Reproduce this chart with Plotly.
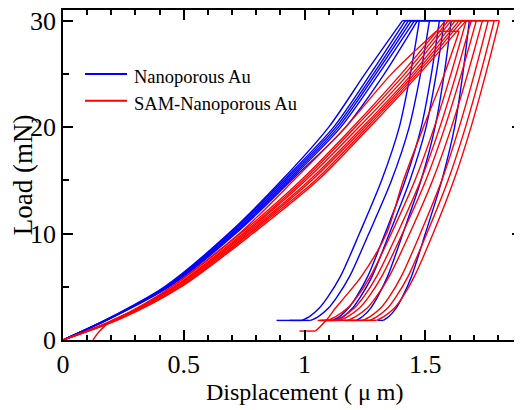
import plotly.graph_objects as go

# ---------------- data ----------------
LOAD_UP = [0, 2, 5, 10, 15, 20, 25, 30]
LOAD_DOWN = [30, 25, 20, 15, 10, 6, 4, 3, 2.2, 1.84]
MAX_LOAD = 30
DRIFT_LOAD = 1.84

BLUE_UP_X = [
    [0, 0.186, 0.420, 0.685, 0.905, 1.100, 1.250, 1.405],
    [0, 0.188, 0.425, 0.690, 0.913, 1.120, 1.273, 1.417],
    [0, 0.190, 0.428, 0.697, 0.921, 1.130, 1.285, 1.430],
    [0, 0.192, 0.432, 0.703, 0.929, 1.140, 1.295, 1.442],
    [0, 0.193, 0.436, 0.709, 0.937, 1.150, 1.307, 1.455],
    [0, 0.195, 0.440, 0.715, 0.945, 1.170, 1.330, 1.467],
]
BLUE_DOWN_X = [
    [1.475, 1.438, 1.392, 1.319, 1.227, 1.149, 1.095, 1.061, 1.020, 0.988],
    [1.517, 1.480, 1.433, 1.360, 1.266, 1.187, 1.133, 1.099, 1.057, 1.025],
    [1.558, 1.525, 1.483, 1.417, 1.333, 1.262, 1.213, 1.182, 1.145, 1.116],
    [1.579, 1.545, 1.503, 1.436, 1.351, 1.280, 1.230, 1.199, 1.161, 1.132],
    [1.607, 1.578, 1.540, 1.482, 1.407, 1.344, 1.301, 1.274, 1.240, 1.215],
    [1.682, 1.655, 1.621, 1.568, 1.500, 1.443, 1.404, 1.379, 1.349, 1.326],
]
BLUE_DRIFT_END_X = [0.884, 0.938, 1.062, 1.083, 1.165, 1.302]

RED_UP_X = [
    [0, 0.220, 0.450, 0.735, 0.985, 1.200, 1.400, 1.583],
    [0, 0.225, 0.460, 0.745, 0.995, 1.210, 1.415, 1.595],
    [0, 0.228, 0.465, 0.752, 1.005, 1.225, 1.430, 1.607],
    [0, 0.230, 0.470, 0.760, 1.020, 1.240, 1.445, 1.624],
    [0, 0.233, 0.478, 0.768, 1.030, 1.250, 1.455, 1.640],
    [0, 0.236, 0.485, 0.775, 1.045, 1.260, 1.465, 1.653],
    [0, 0.240, 0.490, 0.785, 1.055, 1.270, 1.475, 1.669],
]
RED_DOWN_X = [
    [1.669, 1.606, 1.537, 1.457, 1.359, 1.273, 1.216, 1.178, 1.129, 1.095],
    [1.690, 1.628, 1.560, 1.481, 1.384, 1.299, 1.243, 1.206, 1.158, 1.124],
    [1.711, 1.649, 1.581, 1.502, 1.405, 1.320, 1.264, 1.227, 1.179, 1.145],
    [1.736, 1.675, 1.608, 1.530, 1.435, 1.351, 1.295, 1.259, 1.211, 1.178],
    [1.760, 1.703, 1.640, 1.568, 1.479, 1.401, 1.349, 1.315, 1.271, 1.240],
    [1.785, 1.728, 1.666, 1.594, 1.506, 1.429, 1.377, 1.344, 1.300, 1.269],
    [1.806, 1.750, 1.689, 1.618, 1.532, 1.455, 1.405, 1.372, 1.328, 1.298],
]
RED_DRIFT_END_X = [1.054, 1.070, 1.087, 1.116, 1.165, 1.194, 1.227]

# one SAM test with a different protocol (offset start, 29 mN peak)
RED_SPECIAL_UP_LOAD = [0, 0.8, 1.8, 2.8, 5, 10, 15, 20, 25, 29]
RED_SPECIAL_UP_X = [0.124, 0.150, 0.200, 0.300, 0.450, 0.730, 0.955, 1.170, 1.360, 1.545]
RED_SPECIAL_DOWN_LOAD = [29, 25, 20, 15, 10, 6, 4, 3, 2, 1.3, 0.84]
RED_SPECIAL_DOWN_X = [1.640, 1.579, 1.492, 1.409, 1.339, 1.236, 1.165, 1.128, 1.095, 1.066, 1.045]
RED_SPECIAL_DRIFT_END_X = 0.979

SERIES_NAMES = ["Nanoporous Au", "SAM-Nanoporous Au"]
X_TITLE = "Displacement ( \u03bc m)"
Y_TITLE = "Load (mN)"
BLUE = "#0000ff"
RED = "#ff0000"
FONT = "Liberation Serif, Times New Roman, serif"


def join(segments):
    xs, ys = [], []
    for sx, sy in segments:
        xs += list(sx) + [None]
        ys += list(sy) + [None]
    return xs, ys


def add_group(fig, up_x, down_x, drift_x, color, extra=None):
    up = [(u, LOAD_UP) for u in up_x]
    down = [(d, LOAD_DOWN) for d in down_x]
    holds = []
    for u, d, e in zip(up_x, down_x, drift_x):
        holds.append(([u[-1], d[0]], [MAX_LOAD, MAX_LOAD]))
        holds.append(([d[-1], e], [DRIFT_LOAD, DRIFT_LOAD]))
    if extra:
        up += extra[0]
        down += extra[1]
        holds += extra[2]
    for segs, shape in ((up, "spline"), (down, "spline"), (holds, "linear")):
        x, y = join(segs)
        fig.add_trace(go.Scatter(x=x, y=y, mode="lines", showlegend=False,
                                 line=dict(color=color, width=1.4, shape=shape, smoothing=0.8),
                                 connectgaps=False, hoverinfo="skip"))


fig = go.Figure()
add_group(fig, BLUE_UP_X, BLUE_DOWN_X, BLUE_DRIFT_END_X, BLUE)
special = (
    [(RED_SPECIAL_UP_X, RED_SPECIAL_UP_LOAD)],
    [(RED_SPECIAL_DOWN_X, RED_SPECIAL_DOWN_LOAD)],
    [([RED_SPECIAL_UP_X[-1], RED_SPECIAL_DOWN_X[0]], [RED_SPECIAL_UP_LOAD[-1], RED_SPECIAL_DOWN_LOAD[0]]),
     ([RED_SPECIAL_DOWN_X[-1], RED_SPECIAL_DRIFT_END_X], [RED_SPECIAL_DOWN_LOAD[-1], RED_SPECIAL_DOWN_LOAD[-1]])],
)
add_group(fig, RED_UP_X, RED_DOWN_X, RED_DRIFT_END_X, RED, special)

# page pixel -> paper coordinates (plot area spans x 63..522, y 10..339.6 on the page)
L, T, PW, PH = 63, 10, 459, 329.6
def px(x):
    return (x - L) / PW
def py(y):
    return 1 - (y - T) / PH

# manual legend (line samples + labels)
for name, color, ypix in zip(SERIES_NAMES, [BLUE, RED], [74, 100.7]):
    fig.add_shape(type="line", xref="paper", yref="paper",
                  x0=px(85), x1=px(127), y0=py(ypix), y1=py(ypix),
                  line=dict(color=color, width=2))
    fig.add_annotation(xref="paper", yref="paper", x=px(132), y=py(ypix + 3),
                       text=name, showarrow=False, xanchor="left", yanchor="middle",
                       font=dict(family=FONT, size=18.5, color="black"))

# axis titles
fig.add_annotation(xref="paper", yref="paper", x=px(304), y=py(392), text=X_TITLE,
                   showarrow=False, xanchor="center", yanchor="middle",
                   font=dict(family=FONT, size=24, color="black"))
fig.add_annotation(xref="paper", yref="paper", x=px(23), y=py(175), text=Y_TITLE,
                   textangle=-90, showarrow=False, xanchor="center", yanchor="middle",
                   font=dict(family=FONT, size=27, color="black"))

axis_common = dict(
    showline=True, linecolor="black", linewidth=1.5, mirror="allticks",
    ticks="inside", ticklen=10, tickwidth=1.5, tickcolor="black",
    showgrid=False, zeroline=False, automargin=False, ticklabeloverflow="allow",
    tickfont=dict(family=FONT, size=26, color="black"),
)
fig.update_xaxes(range=[0, 1.9], tick0=0, dtick=0.5,
                 minor=dict(dtick=0.1, ticks="inside", ticklen=5, tickwidth=1.5, tickcolor="black", showgrid=False),
                 **axis_common)
fig.update_yaxes(range=[0, 31], tick0=0, dtick=10,
                 minor=dict(dtick=5, ticks="inside", ticklen=6, tickwidth=1.5, tickcolor="black", showgrid=False),
                 **axis_common)
# the page body adds an 8 px offset, so the figure is sized/margined to land the plot area at 63..522 x 10..339.6
fig.update_layout(
    width=514, height=402,
    margin=dict(l=55, r=0, t=2, b=70, pad=0),
    paper_bgcolor="white", plot_bgcolor="white",
    showlegend=False,
)
fig.write_html("out.html")
